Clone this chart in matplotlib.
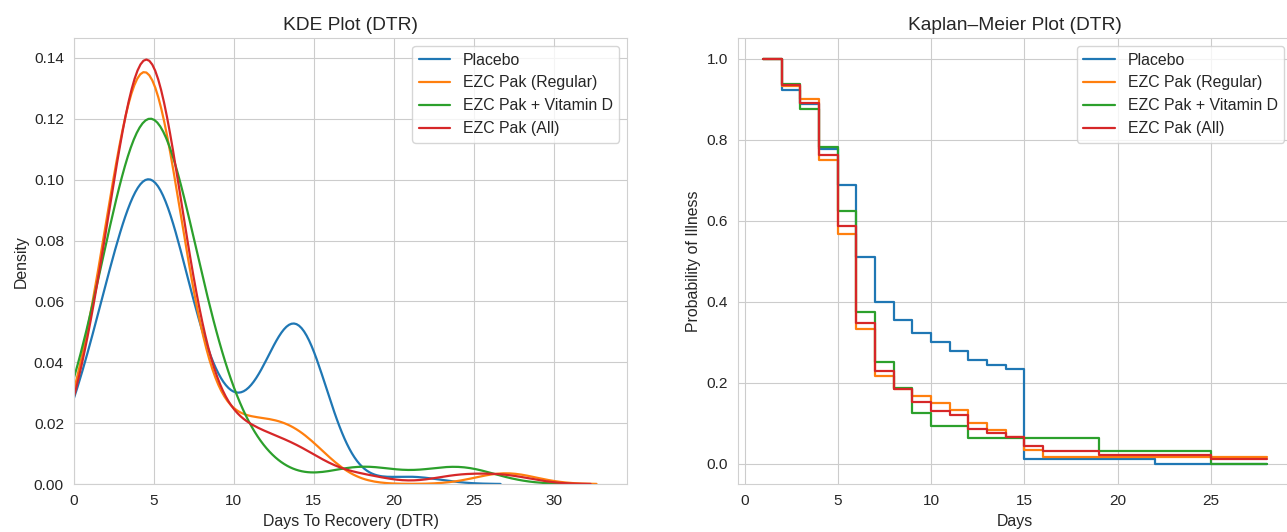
import numpy as np
import pandas as pd
import matplotlib
matplotlib.use("Agg")
import matplotlib.pyplot as plt
import seaborn as sns

# Days to recovery per group, stored as (day, number of patients)
placebo_days = [1, 2, 3, 4, 5, 6, 7, 8, 9, 10, 11, 12, 13, 14, 21]
placebo_counts = [7, 3, 10, 8, 16, 10, 4, 3, 2, 2, 2, 1, 1, 20, 1]

regular_days = [1, 2, 3, 4, 5, 6, 7, 8, 9, 10, 11, 12, 13, 14, 15, 27]
regular_counts = [4, 2, 9, 11, 14, 7, 2, 1, 1, 1, 2, 1, 1, 2, 1, 1]

vitd_days = [1, 2, 3, 4, 5, 6, 7, 8, 9, 11, 18, 24]
vitd_counts = [2, 2, 3, 5, 8, 4, 2, 2, 1, 1, 1, 1]

group_names = ["Placebo", "EZC Pak (Regular)", "EZC Pak + Vitamin D", "EZC Pak (All)"]
group_colors = ["#1f77b4", "#ff7f0e", "#2ca02c", "#d62728"]

placebo = np.repeat(placebo_days, placebo_counts)
regular = np.repeat(regular_days, regular_counts)
vitd = np.repeat(vitd_days, vitd_counts)
ezc_all = np.concatenate([regular, vitd])
groups = [placebo, regular, vitd, ezc_all]

sns.set_style("whitegrid")
plt.rcParams["font.family"] = ["Liberation Sans", "DejaVu Sans"]
plt.rcParams["text.color"] = "#262626"
plt.rcParams["axes.labelcolor"] = "#262626"
plt.rcParams["xtick.color"] = "#262626"
plt.rcParams["ytick.color"] = "#262626"

fig = plt.figure(figsize=(12.87, 5.32), dpi=100)
W, H = 1287.0, 532.0
ax1 = fig.add_axes([74 / W, 48 / H, (627.3 - 74) / W, (484 - 38.3) / H])
ax2 = fig.add_axes([738 / W, 48 / H, (1292 - 738) / W, (484 - 38.3) / H])

# KDE of days to recovery
for data, name, col in zip(groups, group_names, group_colors):
    sns.kdeplot(x=data, ax=ax1, label=name, color=col, linewidth=1.6)
ax1.set_xlim(left=0)
ax1.set_title("KDE Plot (DTR)", fontsize=13.8)
ax1.set_xlabel("Days To Recovery (DTR)", fontsize=11.4)
ax1.set_ylabel("Density", fontsize=11.4)
ax1.legend(loc="upper right", fontsize=11.4)

# Kaplan-Meier style survival (probability still ill)
max_day = max(g.max() for g in groups)
days = np.arange(1, max_day + 2)
for data, name, col in zip(groups, group_names, group_colors):
    surv = [(data >= d - 1).mean() for d in days]
    ax2.step(days, surv, where="pre", label=name, color=col, linewidth=1.6)
ax2.set_title("Kaplan\u2013Meier Plot (DTR)", fontsize=13.8)
ax2.set_xlabel("Days", fontsize=11.4)
ax2.set_ylabel("Probability of Illness", fontsize=11.4)
ax2.legend(loc="upper right", fontsize=11.4)

for ax in (ax1, ax2):
    ax.tick_params(labelsize=11.1, length=0, pad=7.2)
    for sp in ax.spines.values():
        sp.set_color("#d0d0d0")

fig.savefig("out.png", dpi=100)
